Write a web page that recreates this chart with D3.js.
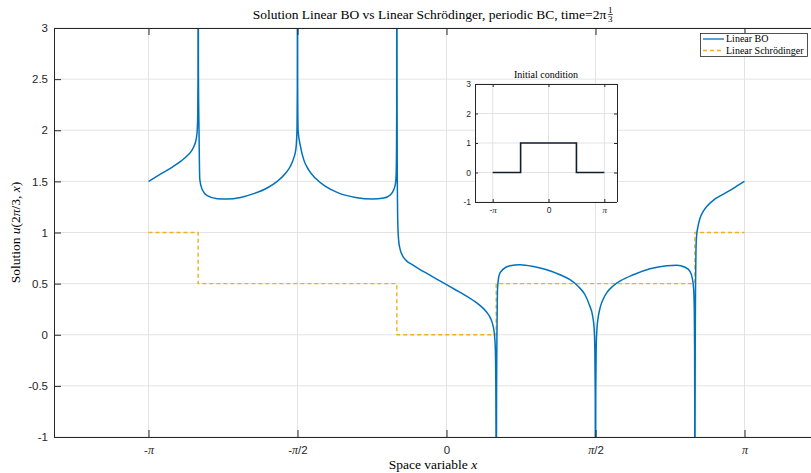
<!DOCTYPE html>
<html>
<head>
<meta charset="utf-8">
<script src="https://cdn.jsdelivr.net/npm/d3@7"></script>
<style>
  html, body { margin: 0; padding: 0; background: #fff; }
  svg { display: block; }
  .serif { font-family: "Liberation Serif", "DejaVu Serif", serif; }
  .sans { font-family: "Liberation Sans", Arial, Helvetica, sans-serif; }
</style>
</head>
<body>
<svg id="chart" width="811" height="473"></svg>
<script>
// x positions are stored as multiples of π
const xTickValues = [-1, -0.5, 0, 0.5, 1];
const xTickLabels = ["-π", "-π/2", "0", "π/2", "π"];
const yTickValues = [-1, -0.5, 0, 0.5, 1, 1.5, 2, 2.5, 3];
const yTickLabels = ["-1", "-0.5", "0", "0.5", "1", "1.5", "2", "2.5", "3"];

// Linear Benjamin–Ono solution at t = 2π/3
const boX = [
  -1.000, -0.960, -0.920, -0.890, -0.870, -0.855, -0.845, -0.8395, -0.8365, -0.8348, -0.8339,
  -0.8333,
  -0.8325, -0.8305, -0.8279, -0.8198, -0.803, -0.7695, -0.736, -0.691, -0.647,
  -0.602, -0.568, -0.540, -0.5235, -0.5124, -0.5057, -0.5030, -0.5015, -0.5006,
  -0.5000,
  -0.4994, -0.4980, -0.4899, -0.4789, -0.4621, -0.4396, -0.406, -0.3614, -0.3054,
  -0.2493, -0.2104, -0.1879, -0.1768, -0.1711, -0.1688, -0.1678, -0.1671,
  -0.1667,
  -0.1660, -0.1652, -0.1643, -0.1630, -0.1605, -0.156, -0.148, -0.135, -0.115,
  -0.09, -0.06, -0.03, 0.00, 0.03, 0.06, 0.09, 0.115, 0.135, 0.148, 0.156, 0.161,
  0.1640, 0.1655, 0.1662,
  0.1667,
  0.1672, 0.1680, 0.1690, 0.1700, 0.1712, 0.1772, 0.1906, 0.2131, 0.2466, 0.2913,
  0.3362, 0.3809, 0.4144, 0.4423, 0.4648, 0.4792, 0.4906, 0.4955, 0.4978, 0.4992,
  0.5000,
  0.5008, 0.5022, 0.5045, 0.509, 0.516, 0.526, 0.540, 0.558, 0.585, 0.627,
  0.683, 0.739, 0.7725, 0.8003, 0.8171, 0.8248, 0.8295, 0.8315, 0.8325, 0.8330,
  0.8333,
  0.8340, 0.8348, 0.8358, 0.8370, 0.8390, 0.8440, 0.8507, 0.860, 0.875, 0.895,
  0.920, 0.950, 0.975, 1.000
];
const boY = [
  1.50, 1.57, 1.64, 1.70, 1.75, 1.80, 1.86, 1.92, 2.00, 2.15, 2.5,
  5.0,
  2.6, 2.0, 1.52, 1.42, 1.36, 1.33, 1.327, 1.343, 1.38,
  1.435, 1.50, 1.58, 1.65, 1.73, 1.81, 1.91, 2.04, 2.4,
  5.0,
  2.4, 2.0, 1.84, 1.71, 1.61, 1.53, 1.45, 1.385, 1.343,
  1.327, 1.337, 1.37, 1.42, 1.48, 1.58, 1.78, 2.2,
  5.0,
  2.5, 1.6, 1.25, 1.05, 0.92, 0.84, 0.775, 0.725, 0.685,
  0.64, 0.59, 0.54, 0.49, 0.44, 0.39, 0.335, 0.28, 0.22, 0.16, 0.09, 0.0,
  -0.15, -0.5, -1.0,
  -5.0,
  -2.0, -0.6, -0.1, 0.2, 0.45, 0.587, 0.642, 0.675, 0.685, 0.668,
  0.636, 0.587, 0.538, 0.472, 0.391, 0.293, 0.179, 0.06, -0.15, -0.6,
  -5.0,
  -0.6, -0.15, 0.04, 0.17, 0.27, 0.35, 0.42, 0.475, 0.53, 0.587,
  0.645, 0.675, 0.68, 0.66, 0.619, 0.554, 0.44, 0.245, -0.1, -0.6,
  -5.0,
  -1.0, 0.0, 0.5, 0.8, 0.96, 1.06, 1.14, 1.20, 1.26, 1.315,
  1.36, 1.41, 1.455, 1.50
];

// Linear Schrödinger solution at t = 2π/3 (piecewise constant)
const schX = [-1, -5/6, -1/6, 1/6, 5/6, 1];
const schY = [1, 0.5, 0, 0.5, 1, 1];

// Initial condition: box on [-π/2, π/2]
const icX = [-1, -0.5, 0.5, 1];
const icY = [0, 1, 0, 0];
const insetYTicks = [-1, 0, 1, 2, 3];
const insetYLabels = ["-1", "0", "1", "2", "3"];
const insetXTicks = [-1, 0, 1];
const insetXLabels = ["-π", "0", "π"];

const X_LIM = [-1.3171, 1.2265];
const Y_LIM = [-1, 3];

const svg = d3.select("#chart");
const axisColor = "#262626";
const gridColor = "#e3e3e3";
const blue = "#0072BD";
const orange = "#EDB120";

// ---------- main axes ----------
const M = { left: 54, right: 812, top: 28, bottom: 437 };
const x = d3.scaleLinear().domain(X_LIM).range([M.left, M.right]);
const y = d3.scaleLinear().domain(Y_LIM).range([M.bottom, M.top]);

svg.append("defs").append("clipPath").attr("id", "clipMain")
  .append("rect").attr("x", M.left).attr("y", M.top)
  .attr("width", M.right - M.left).attr("height", M.bottom - M.top);

const grid = svg.append("g");
grid.selectAll(".gx").data(xTickValues).join("line")
  .attr("x1", d => x(d)).attr("x2", d => x(d))
  .attr("y1", M.top).attr("y2", M.bottom)
  .attr("stroke", gridColor).attr("stroke-width", 1);
grid.selectAll(".gy").data(yTickValues).join("line")
  .attr("x1", M.left).attr("x2", M.right)
  .attr("y1", d => y(d)).attr("y2", d => y(d))
  .attr("stroke", gridColor).attr("stroke-width", 1);

function piLabel(sel, labels, size) {
  sel.each(function(d, i) {
    const t = d3.select(this);
    const s = labels[i];
    t.text(null);
    const parts = s.split("π");
    parts.forEach((p, j) => {
      if (p) t.append("tspan").attr("class", "sans").text(p);
      if (j < parts.length - 1) {
        t.append("tspan").attr("class", "serif").attr("font-style", "italic")
          .attr("font-size", size).text("π");
      }
    });
  });
}

const plot = svg.append("g").attr("clip-path", "url(#clipMain)");

const lineSch = d3.line()
  .x(d => x(d[0])).y(d => y(d[1]))
  .curve(d3.curveStepAfter);
plot.append("path")
  .datum(schX.map((v, i) => [v, schY[i]]))
  .attr("d", lineSch)
  .attr("fill", "none").attr("stroke", orange)
  .attr("stroke-width", 1.4).attr("stroke-dasharray", "4,3");

const lineBO = d3.line().x(d => x(d[0])).y(d => y(d[1])).curve(d3.curveMonotoneX);
plot.append("path")
  .datum(boX.map((v, i) => [v, boY[i]]))
  .attr("d", lineBO)
  .attr("fill", "none").attr("stroke", blue)
  .attr("stroke-width", 1.5).attr("stroke-linejoin", "round");

// axes (inward ticks, box on)
const tickLen = 7;
const axB = svg.append("g").attr("transform", `translate(0,${M.bottom})`)
  .call(d3.axisBottom(x).tickValues(xTickValues).tickSize(-tickLen).tickPadding(9)
    .tickFormat((d, i) => xTickLabels[i]));
const axT = svg.append("g").attr("transform", `translate(0,${M.top})`)
  .call(d3.axisTop(x).tickValues(xTickValues).tickSize(-tickLen).tickFormat(""));
const axL = svg.append("g").attr("transform", `translate(${M.left},0)`)
  .call(d3.axisLeft(y).tickValues(yTickValues).tickSize(-tickLen).tickPadding(6)
    .tickFormat((d, i) => yTickLabels[i]));
[axB, axT, axL].forEach(a => {
  a.select(".domain").attr("stroke", axisColor).attr("stroke-width", 1);
  a.selectAll(".tick line").attr("stroke", axisColor);
  a.selectAll("text").attr("fill", axisColor).attr("font-size", 11.5)
    .attr("font-family", "Liberation Sans, Arial, sans-serif");
});
axB.selectAll(".domain").attr("d", `M${M.left},0.5H${M.right}`);
axT.selectAll(".domain").attr("d", `M${M.left},0.5H${M.right}`);
axL.selectAll(".domain").attr("d", `M0.5,${M.top}V${M.bottom}`);
piLabel(axB.selectAll(".tick text"), xTickLabels, 12);

// title
const title = svg.append("text").attr("class", "serif")
  .attr("y", 19).attr("font-size", 13.5).attr("fill", "#000")
  .text("Solution Linear BO vs Linear Schrödinger, periodic BC, time=2π");
const tw = title.node().getComputedTextLength();
const fracW = 6;
const titleCx = (M.left + M.right) / 2;
const tx0 = titleCx - (tw + fracW + 1) / 2;
title.attr("x", tx0);
const frac = svg.append("g").attr("class", "serif")
  .attr("transform", `translate(${tx0 + tw + 1},0)`);
frac.append("text").attr("x", fracW / 2).attr("y", 13).attr("text-anchor", "middle")
  .attr("font-size", 9).text("1");
frac.append("line").attr("x1", 0.5).attr("x2", fracW - 0.5).attr("y1", 14.5).attr("y2", 14.5)
  .attr("stroke", "#000").attr("stroke-width", 0.7);
frac.append("text").attr("x", fracW / 2).attr("y", 22).attr("text-anchor", "middle")
  .attr("font-size", 9).text("3");

// axis labels
const xl = svg.append("text").attr("class", "serif")
  .attr("x", titleCx).attr("y", 469).attr("text-anchor", "middle")
  .attr("font-size", 13.5).attr("fill", "#000");
xl.append("tspan").text("Space variable ");
xl.append("tspan").attr("font-style", "italic").text("x");

const yl = svg.append("text").attr("class", "serif")
  .attr("transform", `translate(20,${(M.top + M.bottom) / 2}) rotate(-90)`)
  .attr("text-anchor", "middle").attr("font-size", 13.5).attr("fill", "#000");
yl.append("tspan").text("Solution ");
yl.append("tspan").attr("font-style", "italic").text("u");
yl.append("tspan").text("(2");
yl.append("tspan").attr("font-style", "italic").text("π");
yl.append("tspan").text("/3, ");
yl.append("tspan").attr("font-style", "italic").text("x");
yl.append("tspan").text(")");

// legend
const L = { x: 700, y: 33, w: 107, h: 23 };
const lg = svg.append("g");
lg.append("rect").attr("x", L.x + 0.5).attr("y", L.y + 0.5).attr("width", L.w).attr("height", L.h)
  .attr("fill", "#fff").attr("stroke", axisColor).attr("stroke-width", 0.8);
const legendItems = [
  { label: "Linear BO", color: blue, dash: null },
  { label: "Linear Schrödinger", color: orange, dash: "4,3" }
];
legendItems.forEach((it, i) => {
  const cy = L.y + 6 + i * 11.5;
  lg.append("line").attr("x1", L.x + 3).attr("x2", L.x + 24).attr("y1", cy).attr("y2", cy)
    .attr("stroke", it.color).attr("stroke-width", 1.3)
    .attr("stroke-dasharray", it.dash);
  lg.append("text").attr("class", "serif").attr("x", L.x + 26).attr("y", cy + 3.3)
    .attr("font-size", 10).attr("fill", "#000").text(it.label);
});

// ---------- inset: initial condition ----------
const I = { left: 475, right: 617, top: 84, bottom: 202 };
const xi = d3.scaleLinear().domain(X_LIM).range([I.left, I.right]);
const yi = d3.scaleLinear().domain(Y_LIM).range([I.bottom, I.top]);
const inset = svg.append("g");
inset.append("rect").attr("x", I.left).attr("y", I.top)
  .attr("width", I.right - I.left).attr("height", I.bottom - I.top).attr("fill", "#fff");
inset.selectAll(".igx").data(insetXTicks).join("line")
  .attr("x1", d => xi(d)).attr("x2", d => xi(d)).attr("y1", I.top).attr("y2", I.bottom)
  .attr("stroke", gridColor);
inset.selectAll(".igy").data(insetYTicks).join("line")
  .attr("x1", I.left).attr("x2", I.right).attr("y1", d => yi(d)).attr("y2", d => yi(d))
  .attr("stroke", gridColor);
inset.append("path")
  .datum(icX.map((v, i) => [v, icY[i]]))
  .attr("d", d3.line().x(d => xi(d[0])).y(d => yi(d[1])).curve(d3.curveStepAfter))
  .attr("fill", "none").attr("stroke", "#0f1e2d").attr("stroke-width", 1.6);
const iTick = 3;
const iaB = inset.append("g").attr("transform", `translate(0,${I.bottom})`)
  .call(d3.axisBottom(xi).tickValues(insetXTicks).tickSize(-iTick).tickPadding(5)
    .tickFormat((d, i) => insetXLabels[i]));
const iaT = inset.append("g").attr("transform", `translate(0,${I.top})`)
  .call(d3.axisTop(xi).tickValues(insetXTicks).tickSize(-iTick).tickFormat(""));
const iaL = inset.append("g").attr("transform", `translate(${I.left},0)`)
  .call(d3.axisLeft(yi).tickValues(insetYTicks).tickSize(-iTick).tickPadding(4)
    .tickFormat((d, i) => insetYLabels[i]));
const iaR = inset.append("g").attr("transform", `translate(${I.right},0)`)
  .call(d3.axisRight(yi).tickValues(insetYTicks).tickSize(-iTick).tickFormat(""));
[iaB, iaT, iaL, iaR].forEach(a => {
  a.select(".domain").attr("stroke", axisColor).attr("stroke-width", 1);
  a.selectAll(".tick line").attr("stroke", axisColor);
  a.selectAll("text").attr("fill", axisColor).attr("font-size", 8.5)
    .attr("font-family", "Liberation Sans, Arial, sans-serif");
});
iaB.select(".domain").attr("d", `M${I.left},0.5H${I.right}`);
iaT.select(".domain").attr("d", `M${I.left},0.5H${I.right}`);
iaL.select(".domain").attr("d", `M0.5,${I.top}V${I.bottom}`);
iaR.select(".domain").attr("d", `M0.5,${I.top}V${I.bottom}`);
piLabel(iaB.selectAll(".tick text"), insetXLabels, 9);
inset.append("text").attr("class", "serif")
  .attr("x", (I.left + I.right) / 2).attr("y", 78).attr("text-anchor", "middle")
  .attr("font-size", 10).attr("fill", "#000").text("Initial condition");
</script>
</body>
</html>
